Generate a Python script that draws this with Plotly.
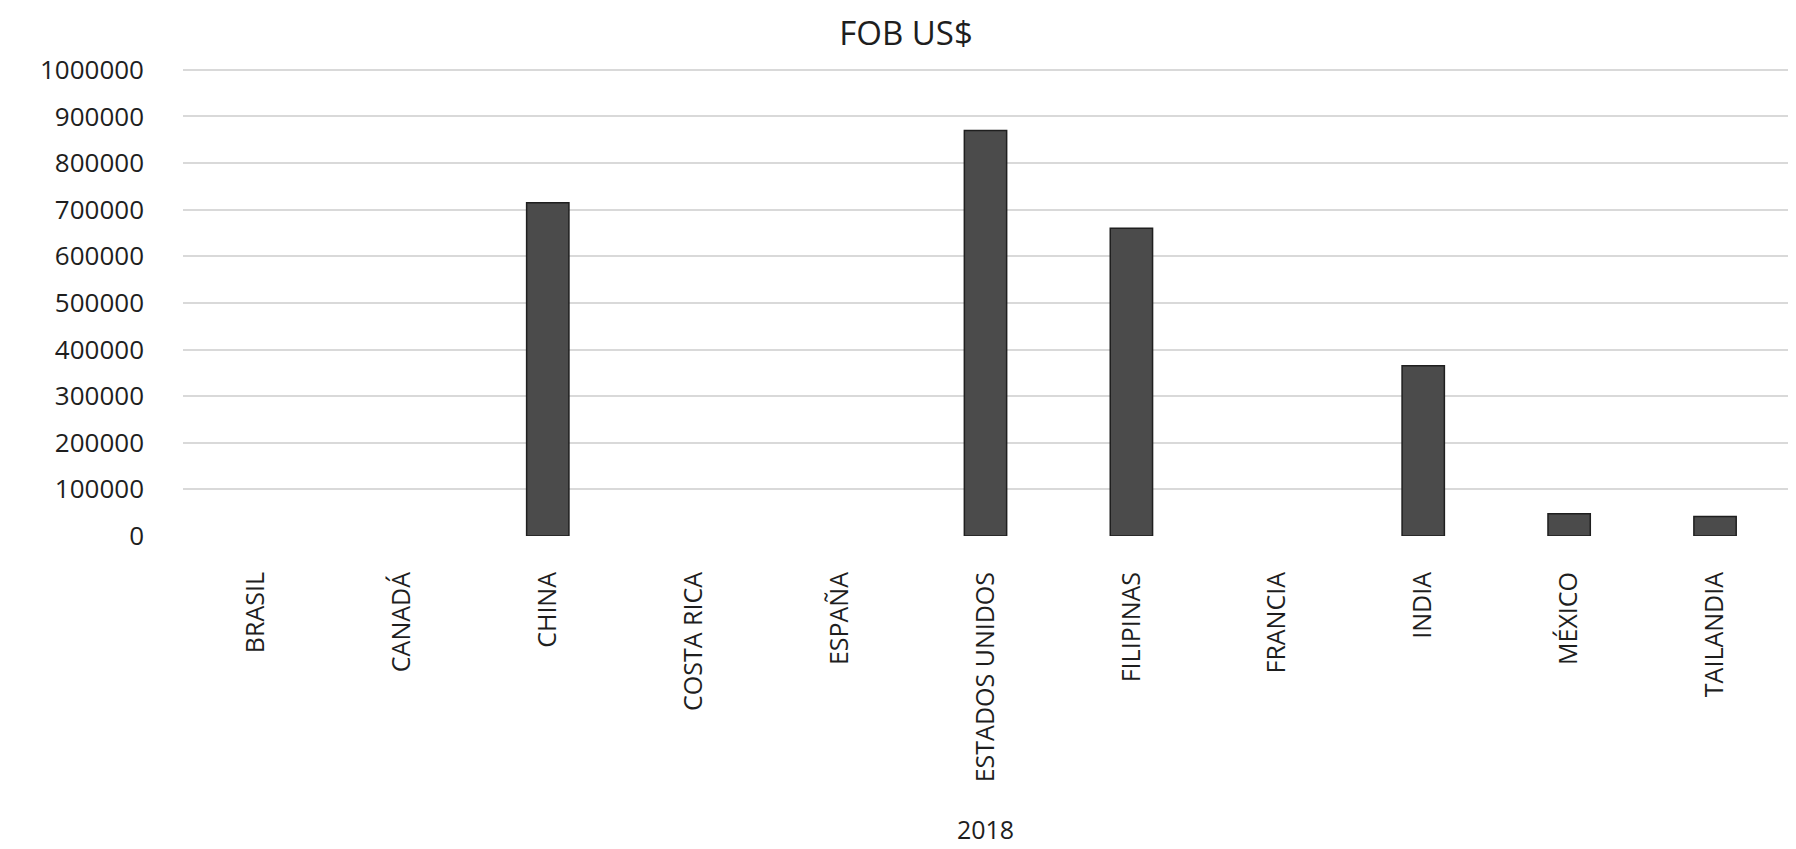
import plotly.graph_objects as go

categories = ["BRASIL", "CANADÁ", "CHINA", "COSTA RICA", "ESPAÑA", "ESTADOS UNIDOS",
              "FILIPINAS", "FRANCIA", "INDIA", "MÉXICO", "TAILANDIA"]
fob_values = [0, 0, 715000, 0, 0, 870000, 660000, 0, 365000, 48000, 42000]
y_ticks = [0, 100000, 200000, 300000, 400000, 500000, 600000, 700000, 800000, 900000, 1000000]

FONT = "Open Sans, Liberation Sans, sans-serif"
TXT = "#1e1e1e"

fig = go.Figure()
fig.add_trace(go.Bar(
    x=categories,
    y=fob_values,
    marker=dict(color="#4b4b4b",
                line=dict(color="#1f1f1f",
                          width=[0 if v == 0 else 1.5 for v in fob_values])),
    width=0.29,
    showlegend=False,
))

fig.update_layout(
    width=1796, height=849,
    paper_bgcolor="white", plot_bgcolor="white",
    margin=dict(l=175, r=16, t=60, b=321, autoexpand=False),
    title=dict(text="FOB US$", x=0.5, xanchor="center", y=0.97, yanchor="middle",
               font=dict(family=FONT, size=33, color=TXT)),
    font=dict(family=FONT, color=TXT),
    xaxis=dict(
        tickangle=-90,
        tickfont=dict(size=25, color=TXT),
        showgrid=False, showline=False, zeroline=False,
        ticks="", ticklabelstandoff=30,
        title=dict(text="2018", font=dict(size=25, color=TXT), standoff=40),
        automargin=False,
    ),
    yaxis=dict(
        range=[0, 1004000],
        tickvals=y_ticks,
        ticktext=[str(v) for v in y_ticks],
        tickfont=dict(size=26, color=TXT),
        showgrid=True, gridcolor="#d9d9d9", gridwidth=1.5,
        zeroline=False, showline=False, ticks="",
        ticklabelstandoff=38,
        automargin=False,
    ),
)

fig.write_html("out.html")
